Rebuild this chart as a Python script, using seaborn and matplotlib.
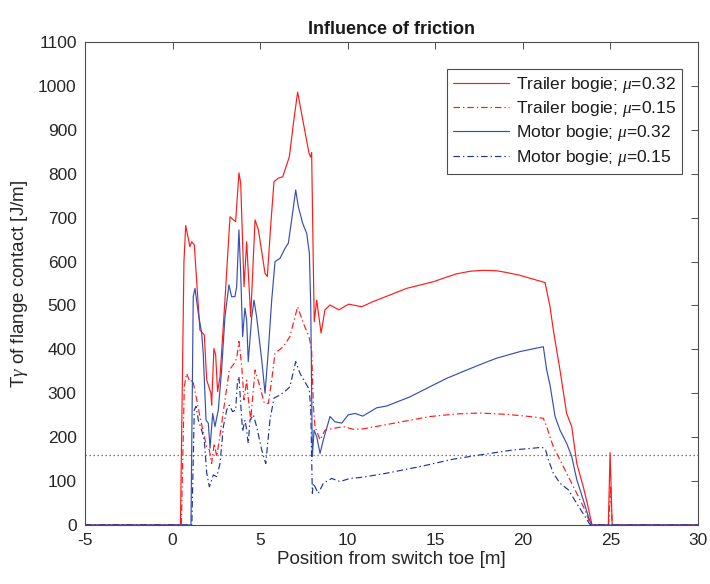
import numpy as np
import pandas as pd
import matplotlib
matplotlib.use("Agg")
import matplotlib.pyplot as plt
import seaborn as sns

# Flange contact energy along the switch, two bogie types at two friction levels
trailer_032_x = [-5, 0.45, 0.65, 0.75, 0.99, 1.09, 1.24, 1.56, 1.81, 1.95, 2.19, 2.23, 2.36, 2.46,
                 2.57, 2.71, 2.99, 3.28, 3.47, 3.6, 3.79, 3.89, 4.08, 4.23, 4.46, 4.71, 4.9, 5.28,
                 5.41, 5.6, 5.79, 6.04, 6.29, 6.67, 6.9, 7.14, 7.47, 7.79, 7.88, 7.94, 8.04, 8.09,
                 8.23, 8.48, 8.7, 8.99, 9.5, 10.05, 10.8, 11.46, 12.42, 13.37, 14.89, 15.6, 16.22,
                 17.0, 17.74, 18.5, 19.08, 19.8, 20.41, 21.27, 21.55, 21.74, 22.12, 22.5, 22.79,
                 23.08, 23.45, 23.68, 23.95, 24.88, 24.98, 25.1, 30]
trailer_032_y = [0, 0, 600, 682, 634, 645, 638, 444, 433, 330, 300, 273, 402, 387,
                 304, 338, 512, 702, 695, 691, 802, 778, 543, 645, 474, 695, 672, 573,
                 566, 680, 782, 790, 793, 839, 915, 986, 915, 847, 838, 848, 581, 463,
                 512, 437, 490, 501, 490, 503, 497, 509, 524, 539, 554, 564, 572,
                 578, 580, 579, 575, 569, 562, 552, 497, 444, 353, 254, 224,
                 140, 87, 49, 0, 0, 165, 0, 0]

trailer_015_x = [-5, 0.5, 0.67, 0.8, 0.99, 1.15, 1.38, 1.56, 1.75, 1.95, 2.1, 2.23, 2.38, 2.52,
                 2.67, 2.94, 3.24, 3.52, 3.66, 3.79, 3.95, 4.08, 4.23, 4.32, 4.46, 4.71, 4.99,
                 5.24, 5.47, 5.66, 5.85, 6.32, 6.7, 6.89, 7.14, 7.47, 7.79, 7.94, 8.04, 8.13,
                 8.42, 8.7, 9.18, 9.75, 10.32, 10.89, 12.8, 14.7, 16.22, 17.55, 19.08, 20.41,
                 21.17, 21.36, 21.74, 22.12, 22.6, 23.08, 23.55, 23.87, 24.9, 25.0, 25.1, 30]
trailer_015_y = [0, 0, 315, 345, 326, 330, 285, 247, 213, 178, 171, 140, 186, 156,
                 194, 270, 353, 368, 380, 418, 361, 285, 330, 289, 239, 353, 315,
                 277, 277, 330, 391, 406, 429, 459, 497, 459, 429, 399, 270, 224,
                 194, 216, 220, 224, 218, 219, 233, 247, 253, 255, 252, 247,
                 243, 224, 178, 148, 110, 72, 34, 0, 0, 90, 0, 0]

motor_032_x = [-5, 1.05, 1.18, 1.28, 1.47, 1.66, 1.75, 1.91, 2.04, 2.14, 2.29, 2.42, 2.61, 2.8,
               2.99, 3.22, 3.37, 3.56, 3.66, 3.79, 3.89, 4.0, 4.13, 4.23, 4.32, 4.52, 4.65, 4.8,
               5.09, 5.28, 5.47, 5.66, 5.85, 6.13, 6.42, 6.61, 6.8, 7.03, 7.18, 7.43, 7.66,
               7.81, 7.89, 7.98, 8.08, 8.23, 8.42, 8.61, 8.99, 9.27, 9.66, 10.03, 10.42, 10.86,
               11.66, 12.23, 13.56, 14.7, 15.65, 16.8, 17.6, 18.51, 19.84, 21.17, 21.36, 21.55,
               21.84, 22.12, 22.5, 22.79, 23.08, 23.45, 23.74, 23.92, 30]
motor_032_y = [0, 0, 520, 539, 482, 437, 391, 239, 232, 175, 254, 224, 262, 353,
               474, 547, 520, 520, 543, 672, 573, 429, 494, 467, 372, 474, 512, 474,
               376, 300, 399, 512, 600, 607, 630, 642, 695, 763, 725, 687, 664,
               619, 497, 156, 216, 201, 163, 194, 247, 235, 232, 251, 254, 248,
               267, 271, 292, 315, 334, 353, 366, 380, 395, 406, 353, 319,
               247, 216, 186, 156, 103, 57, 19, 0, 0]

motor_015_x = [-5, 1.1, 1.24, 1.34, 1.47, 1.66, 1.81, 1.95, 2.1, 2.33, 2.52, 2.71, 2.9, 3.09,
               3.24, 3.43, 3.6, 3.7, 3.79, 3.9, 4.0, 4.13, 4.2, 4.32, 4.42, 4.61, 4.8, 5.09,
               5.32, 5.56, 5.79, 6.13, 6.52, 6.7, 7.03, 7.28, 7.56, 7.81, 7.89, 7.98, 8.04,
               8.17, 8.32, 8.61, 9.08, 9.56, 10.13, 10.89, 12.23, 14.13, 16.03, 17.94, 19.46,
               20.6, 21.1, 21.3, 21.46, 21.74, 22.12, 22.6, 23.08, 23.55, 23.85, 30]
motor_015_y = [0, 0, 262, 270, 239, 216, 194, 118, 87, 114, 110, 140, 224, 262,
               273, 258, 262, 323, 338, 270, 213, 239, 224, 186, 239, 251, 224, 171,
               140, 239, 289, 296, 308, 315, 372, 345, 326, 308, 262, 72, 95,
               84, 72, 95, 106, 99, 106, 109, 118, 133, 150, 162, 171,
               175, 177, 171, 148, 118, 95, 80, 49, 19, 0, 0]

threshold = 160

labels = ["Trailer bogie; $\\mu$=0.32", "Trailer bogie; $\\mu$=0.15",
          "Motor bogie; $\\mu$=0.32", "Motor bogie; $\\mu$=0.15"]

sns.set_theme(style="white")
plt.rcParams["font.family"] = ["Liberation Sans", "DejaVu Sans"]
plt.rcParams["mathtext.fontset"] = "custom"
plt.rcParams["mathtext.it"] = "Liberation Serif:italic"
plt.rcParams["mathtext.rm"] = "Liberation Sans"
plt.rcParams["axes.unicode_minus"] = False

fig = plt.figure(figsize=(7.10, 5.84), dpi=100)
ax = fig.add_axes([85 / 710, 1 - 525 / 584, 613 / 710, 483 / 584])

dashdot = (0, (5.5, 2.5, 1.2, 2.5))
series = [
    (trailer_032_x, trailer_032_y, "#ff1a1a", "-", labels[0]),
    (trailer_015_x, trailer_015_y, "#ff1a1a", dashdot, labels[1]),
    (motor_032_x, motor_032_y, "#3550b0", "-", labels[2]),
    (motor_015_x, motor_015_y, "#1f339e", dashdot, labels[3]),
]
for xs, ys, col, ls, lab in series:
    df = pd.DataFrame({"x": xs, "y": ys})
    sns.lineplot(data=df, x="x", y="y", ax=ax, color=col, linestyle=ls,
                 linewidth=0.85, estimator=None, sort=False, label=lab)

ax.axhline(threshold, color="#555555", linestyle=(0, (1, 2.2)), linewidth=0.9, zorder=1)

ax.set_xlim(-5, 30)
ax.set_ylim(0, 1100)
ax.set_xticks(np.arange(-5, 31, 5))
ax.set_yticks(np.arange(0, 1101, 100))
ax.tick_params(direction="in", top=True, right=True, length=5, width=0.7,
               color="#4d4d4d", labelsize=12.5, labelcolor="#262626", pad=6)
for s in ax.spines.values():
    s.set_color("#4d4d4d")
    s.set_linewidth(0.8)

ax.set_xlabel("Position from switch toe [m]", fontsize=13.5, color="#262626", labelpad=2)
ax.set_ylabel("T$\\gamma$ of flange contact [J/m]", fontsize=13.5, color="#262626", labelpad=6)
ax.set_title("Influence of friction", fontsize=13, fontweight="bold", color="#1a1a1a", pad=6)

leg = ax.legend(loc="upper right", bbox_to_anchor=(0.988, 0.963), fontsize=12.5,
                frameon=True, fancybox=False, edgecolor="#4d4d4d", framealpha=1,
                handlelength=3.2, handletextpad=0.4, borderpad=0.35, labelspacing=0.25)
leg.get_frame().set_linewidth(0.8)
for t in leg.get_texts():
    t.set_color("#1a1a1a")

fig.savefig("out.png", dpi=100)
